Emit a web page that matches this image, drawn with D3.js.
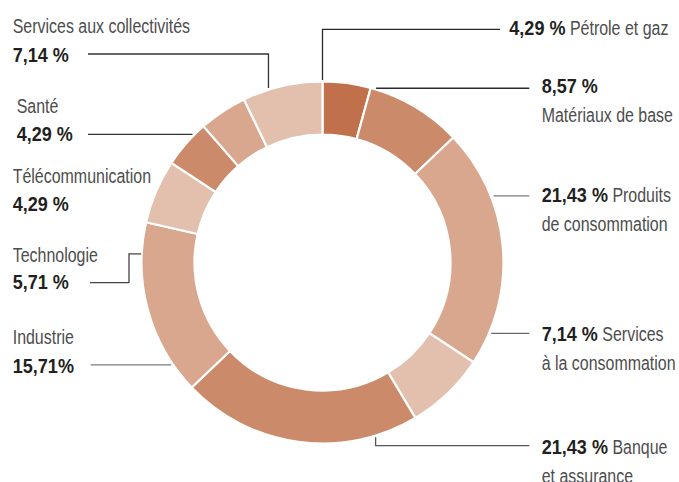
<!DOCTYPE html>
<html lang="fr">
<head>
<meta charset="UTF-8">
<title>Répartition sectorielle</title>
<script src="https://cdn.jsdelivr.net/npm/d3@7"></script>
<style>
  body { margin: 0; background: #fff; }
  text { font-family: "Liberation Sans", Arial, sans-serif; font-size: 21px; }
  .val { font-weight: bold; fill: #231f20; }
  .name { fill: #4d4d4d; }
</style>
</head>
<body>
<svg width="679" height="482"></svg>
<script>
// secteurs, dans l'ordre horaire depuis midi ("|" = retour à la ligne)
var sectors = ["Pétrole et gaz", "Matériaux de base", "Produits|de consommation",
  "Services|à la consommation", "Banque|et assurance", "Industrie", "Technologie",
  "Télécommunication", "Santé", "Services aux collectivités"];
var values = [4.29, 8.57, 21.43, 7.14, 21.43, 15.71, 5.71, 4.29, 4.29, 7.14];
var valueLabels = ["4,29 %", "8,57 %", "21,43 %", "7,14 %", "21,43 %", "15,71%", "5,71 %", "4,29 %", "4,29 %", "7,14 %"];

var svg = d3.select("svg");
var cx = 322.5, cy = 262.5;
var outerR = 181, innerR = 128;

// 4 teintes qui tournent
var colors = ["#c0714c", "#cb8a6a", "#d9a78e", "#e2c0ad", "#cb8a6a", "#d9a78e", "#e2c0ad", "#cb8a6a", "#d9a78e", "#e2c0ad"];

var pie = d3.pie().sort(null).value(function (d) { return d; });
var arc = d3.arc().innerRadius(innerR).outerRadius(outerR);

var g = svg.append("g").attr("transform", "translate(" + cx + "," + cy + ")");
g.selectAll("path")
  .data(pie(values))
  .enter()
  .append("path")
  .attr("d", arc)
  .attr("fill", function (d, i) { return colors[i]; })
  .attr("stroke", "#fff")
  .attr("stroke-width", 2.2);

// pas de police condensée dispo -> on tasse horizontalement
var squeeze = { val: 0.86, name: 0.76 };

// mise en page des étiquettes : type, x, lignes de base, point d'attache (angle°, rayon), coudes
var layout = [
  { type: "inline", x: 509.3, y: [35], a: 0, r: 182.5, path: [["v", 29.3], ["h", 500]], stroke: "#2a2a2a" },
  { type: "v/n", x: 541.7, y: [92.7, 121.7], a: 17.1, r: 182.3, path: [["h", 529.3]], stroke: "#2a2a2a" },
  { type: "vn", x: 541.7, y: [201.7, 231], a: 68.7, r: 183.6, path: [["h", 529.3]], stroke: "#7a7a7a" },
  { type: "vn", x: 541.7, y: [340.7, 370], a: 112.8, r: 183, path: [["h", 529.3]], stroke: "#6a6a6a" },
  { type: "vn", x: 541.7, y: [454, 483], a: 163.1, r: 182.7, path: [["v", 445.7], ["h", 529.3]], stroke: "#555" },
  { type: "n/v", x: 12.7, y: [344.3, 373.3], a: 235.9, r: 182.7, path: [["h", 90.7]], stroke: "#7a7a7a" },
  { type: "n/v", x: 12.7, y: [261.7, 289.3], a: 272.7, r: 181.5, path: [["h", 129], ["v", 282.7], ["h", 90]], stroke: "#444" },
  { type: "n/v", x: 12.7, y: [183.3, 211], a: null },
  { type: "n/v", x: 16.7, y: [113, 141], a: 314.6, r: 182.6, path: [["h", 88]], stroke: "#333" },
  { type: "n/v", x: 12.7, y: [33.3, 61.7], a: 342.8, r: 182.7, path: [["v", 54], ["h", 88]], stroke: "#333" }
];

var labels = svg.append("g");
layout.forEach(function (L, i) {
  var parts = sectors[i].split("|");
  var lines;
  if (L.type === "inline") lines = [[["val", valueLabels[i]], ["name", " " + parts.join(" ")]]];
  else if (L.type === "v/n") lines = [[["val", valueLabels[i]]], [["name", parts.join(" ")]]];
  else if (L.type === "vn") lines = [[["val", valueLabels[i]], ["name", " " + parts[0]]], [["name", parts.slice(1).join(" ")]]];
  else lines = [[["name", parts.join(" ")]], [["val", valueLabels[i]]]];

  lines.forEach(function (segs, k) {
    var xpos = L.x;
    segs.forEach(function (s) {
      var t = labels.append("text")
        .attr("class", s[0])
        .attr("xml:space", "preserve")
        .attr("transform", "translate(" + xpos + "," + L.y[k] + ") scale(" + squeeze[s[0]] + ",1)")
        .text(s[1]);
      xpos += t.node().getComputedTextLength() * squeeze[s[0]];
    });
  });

  if (L.a === null) return;
  var p0 = d3.pointRadial(L.a * Math.PI / 180, L.r);
  var pts = [[cx + p0[0], cy + p0[1]]];
  L.path.forEach(function (m) {
    var last = pts[pts.length - 1];
    pts.push(m[0] === "h" ? [m[1], last[1]] : [last[0], m[1]]);
  });
  labels.append("path")
    .attr("d", d3.line()(pts))
    .attr("fill", "none")
    .attr("stroke", L.stroke)
    .attr("stroke-width", 1.3);
});
</script>
</body>
</html>
